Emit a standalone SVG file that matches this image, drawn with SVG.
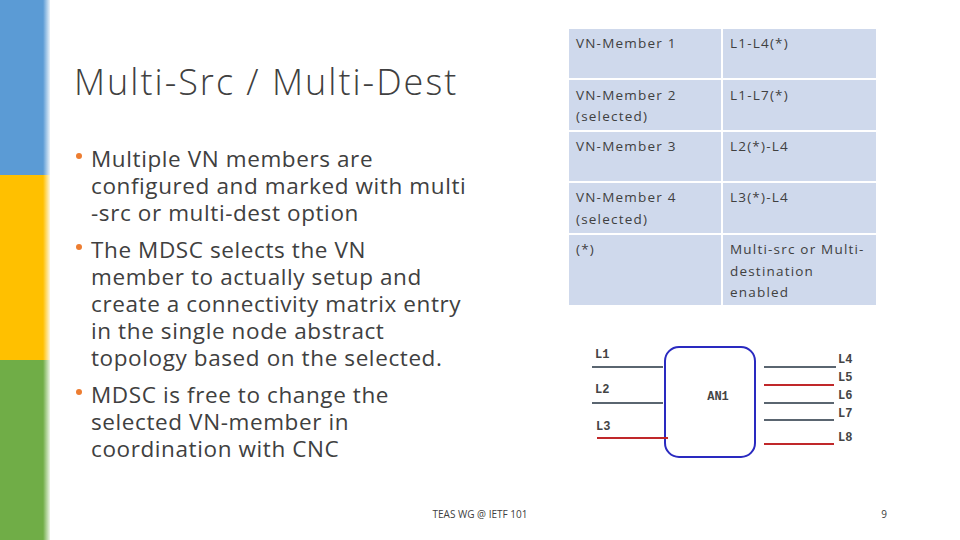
<svg xmlns="http://www.w3.org/2000/svg" width="960" height="540" viewBox="0 0 960 540">
<defs>
<linearGradient id="fade" x1="0" x2="1"><stop offset="0" stop-color="#fff" stop-opacity="0"/><stop offset="1" stop-color="#fff" stop-opacity="1"/></linearGradient>
<style>
.t{font-family:"Open Sans","Liberation Sans",sans-serif;fill:#404040}
.c{fill:#CFD9EC}
.tc{font-family:"Open Sans","Liberation Sans",sans-serif;font-size:13.5px;fill:#404040;letter-spacing:1.2px}
.m{font-family:"Liberation Mono",monospace;font-weight:bold;font-size:12px;fill:#444}
.g{stroke:#5a6570;stroke-width:2}
.r{stroke:#c0282a;stroke-width:2}
</style>
</defs>
<rect width="960" height="540" fill="#fff"/>
<rect x="0" y="0" width="50" height="175" fill="#5B9BD5"/>
<rect x="0" y="175" width="50" height="185" fill="#FFC000"/>
<rect x="0" y="360" width="50" height="180" fill="#70AD47"/>
<rect x="43" y="0" width="8" height="540" fill="url(#fade)"/>
<text class="t" x="74" y="95" font-size="36" font-weight="300" letter-spacing="2">Multi-Src / Multi-Dest</text>
<g class="t" font-size="22.5" letter-spacing="0.6">
<circle cx="79" cy="156" r="3" fill="#ED7D31"/>
<text x="91" y="167">Multiple VN members are</text>
<text x="91" y="194">configured and marked with multi</text>
<text x="91" y="221">-src or multi-dest option</text>
<circle cx="79" cy="247" r="3" fill="#ED7D31"/>
<text x="91" y="258">The MDSC selects the VN</text>
<text x="91" y="285">member to actually setup and</text>
<text x="91" y="312">create a connectivity matrix entry</text>
<text x="91" y="339">in the single node abstract</text>
<text x="91" y="366">topology based on the selected.</text>
<circle cx="79" cy="392" r="3" fill="#ED7D31"/>
<text x="91" y="403">MDSC is free to change the</text>
<text x="91" y="430">selected VN-member in</text>
<text x="91" y="457">coordination with CNC</text>
</g>
<text class="t" x="480" y="518" font-size="10" text-anchor="middle">TEAS WG @ IETF 101</text>
<text class="t" x="884" y="518" font-size="10" text-anchor="middle">9</text>
<g id="table">
<rect class="c" x="569" y="29" width="152" height="49"/><rect class="c" x="723" y="29" width="153" height="49"/>
<rect class="c" x="569" y="80" width="152" height="50"/><rect class="c" x="723" y="80" width="153" height="50"/>
<rect class="c" x="569" y="132" width="152" height="49"/><rect class="c" x="723" y="132" width="153" height="49"/>
<rect class="c" x="569" y="183" width="152" height="50"/><rect class="c" x="723" y="183" width="153" height="50"/>
<rect class="c" x="569" y="235" width="152" height="70"/><rect class="c" x="723" y="235" width="153" height="70"/>
<text class="tc" x="576" y="48">VN-Member 1</text><text class="tc" x="730" y="48">L1-L4(*)</text>
<text class="tc" x="576" y="100">VN-Member 2</text><text class="tc" x="576" y="121">(selected)</text><text class="tc" x="730" y="100">L1-L7(*)</text>
<text class="tc" x="576" y="151">VN-Member 3</text><text class="tc" x="730" y="151">L2(*)-L4</text>
<text class="tc" x="576" y="202">VN-Member 4</text><text class="tc" x="576" y="224">(selected)</text><text class="tc" x="730" y="202">L3(*)-L4</text>
<text class="tc" x="576" y="254">(*)</text><text class="tc" x="730" y="254">Multi-src or Multi-</text><text class="tc" x="730" y="276">destination</text><text class="tc" x="730" y="297">enabled</text>
</g>
<g id="AN1">
<rect x="665" y="347" width="90" height="110" rx="14" fill="#fff" stroke="#2a2ac0" stroke-width="2"/>
<text class="m" x="718" y="400" text-anchor="middle">AN1</text>
</g>
<g id="connectors">
<line class="g" x1="592" y1="367" x2="663" y2="367"/>
<line class="g" x1="592" y1="403" x2="663" y2="403"/>
<line class="r" x1="597" y1="438" x2="668" y2="438"/>
<line class="g" x1="764" y1="367" x2="836" y2="367"/>
<line class="r" x1="764" y1="385" x2="834" y2="385"/>
<line class="g" x1="764" y1="403" x2="834" y2="403"/>
<line class="g" x1="764" y1="420" x2="834" y2="420"/>
<line class="r" x1="764" y1="444" x2="834" y2="444"/>
</g>
<g class="m">
<text x="595" y="358">L1</text><text x="595" y="393">L2</text><text x="596" y="430">L3</text>
<text x="838" y="363">L4</text><text x="838" y="381">L5</text><text x="838" y="399">L6</text><text x="838" y="417">L7</text><text x="838" y="441">L8</text>
</g>
</svg>
